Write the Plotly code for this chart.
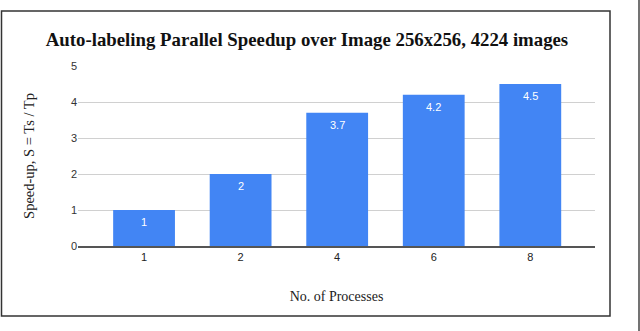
import plotly.graph_objects as go

categories = ["1", "2", "4", "6", "8"]
speedup = [1, 2, 3.7, 4.2, 4.5]
bar_labels = ["1", "2", "3.7", "4.2", "4.5"]
y_ticks = [0, 1, 2, 3, 4, 5]

L, R, T, B = 78, 45, 66, 85
W, H = 640, 331
pw, ph = W - L - R, H - T - B

def px(x):
    return (x - L) / pw

def py(y):
    return (H - B - y) / ph

fig = go.Figure(go.Bar(
    x=categories, y=speedup,
    marker=dict(color="#4285F4", line=dict(width=0)),
    width=0.64, hoverinfo="x+y",
))

# on a category axis, annotation x is the category index
annotations = [
    dict(x=i, y=v, text=t, showarrow=False, yshift=-12, yanchor="middle",
         font=dict(family="Liberation Sans, Arial", size=11, color="white"))
    for i, (v, t) in enumerate(zip(speedup, bar_labels))
]

fig.update_layout(
    width=W, height=H,
    margin=dict(l=L, r=R, t=T, b=B),
    paper_bgcolor="white", plot_bgcolor="white",
    showlegend=False,
    annotations=annotations,
    title=dict(text="<b>Auto-labeling Parallel Speedup over Image 256x256, 4224 images</b>",
               x=307 / W, xanchor="center", y=1 - 39 / H, yanchor="middle",
               font=dict(family="Liberation Serif, Times New Roman", size=18.8, color="#111")),
    xaxis=dict(type="category", range=[-0.684, 4.67], showgrid=False, ticks="",
               tickfont=dict(family="Liberation Sans, Arial", size=11, color="#222"),
               showline=True, linecolor="#555", linewidth=1.5,
               title=dict(text="No. of Processes", standoff=29,
                          font=dict(family="Liberation Serif, Times New Roman", size=14, color="#222"))),
    yaxis=dict(range=[0, 5], tickvals=y_ticks, showgrid=True, gridcolor="#d0d0d0", gridwidth=1,
               zeroline=False, ticks="", showline=False,
               tickfont=dict(family="Liberation Sans, Arial", size=11, color="#333"),
               title=dict(text="Speed-up, S = Ts / Tp", standoff=32,
                          font=dict(family="Liberation Serif, Times New Roman", size=14.5, color="#222"))),
    shapes=[
        dict(type="rect", xref="paper", yref="paper",
             x0=px(1.5), x1=px(610), y0=py(316), y1=py(11),
             line=dict(color="#333", width=1.5), fillcolor="rgba(0,0,0,0)", layer="below"),
        dict(type="line", xref="paper", yref="paper",
             x0=px(639), x1=px(639), y0=py(0), y1=py(331),
             line=dict(color="#444", width=1.5), layer="below"),
    ],
)

fig.write_html("out.html", config={"displayModeBar": False},
               post_script="document.body.style.margin='0';document.body.style.padding='0';")
